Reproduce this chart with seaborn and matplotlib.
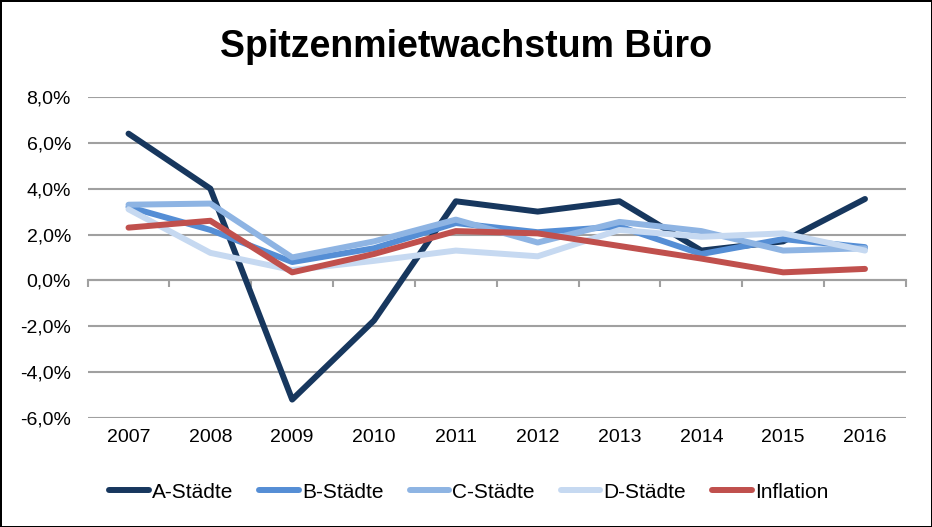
"""Spitzenmietwachstum Büro – Nachbau des Excel-Liniendiagramms."""

import matplotlib

matplotlib.use("Agg")
import matplotlib.pyplot as plt
import matplotlib.ticker as mticker
import pandas as pd
import seaborn as sns

jahre = ["2007", "2008", "2009", "2010", "2011", "2012", "2013", "2014", "2015", "2016"]
a_staedte = [6.4, 4.0, -5.2, -1.75, 3.45, 3.0, 3.45, 1.3, 1.7, 3.55]
b_staedte = [3.2, 2.2, 0.8, 1.4, 2.5, 2.1, 2.35, 1.15, 1.8, 1.45]
c_staedte = [3.3, 3.35, 1.0, 1.7, 2.65, 1.65, 2.55, 2.15, 1.3, 1.4]
d_staedte = [3.1, 1.2, 0.45, 0.85, 1.3, 1.05, 2.2, 1.9, 2.05, 1.3]
inflation = [2.3, 2.6, 0.35, 1.15, 2.15, 2.05, 1.5, 0.95, 0.35, 0.5]

serien = ["A-Städte", "B-Städte", "C-Städte", "D-Städte", "Inflation"]
farben = ["#17375E", "#558ED5", "#8EB4E3", "#C6D9F1", "#C0504D"]
y_ticks = [-6, -4, -2, 0, 2, 4, 6, 8]

df = pd.DataFrame(
    {
        "Jahr": jahre * 5,
        "Wert": a_staedte + b_staedte + c_staedte + d_staedte + inflation,
        "Serie": [s for s in serien for _ in jahre],
    }
)

sns.set_style("white")
plt.rcParams["font.family"] = ["Liberation Sans", "DejaVu Sans"]
plt.rcParams["text.color"] = "black"

fig = plt.figure(figsize=(9.32, 5.27), dpi=100, linewidth=2, edgecolor="black")
ax = fig.add_axes([0.094, 0.207, 0.878, 0.609])

sns.lineplot(
    data=df,
    x="Jahr",
    y="Wert",
    hue="Serie",
    hue_order=serien,
    palette=farben,
    linewidth=4.3,
    solid_capstyle="round",
    sort=False,
    ax=ax,
)

ax.set_xlim(-0.5, len(jahre) - 0.5)
ax.set_ylim(-6, 8)
ax.set_yticks(y_ticks)
ax.yaxis.set_major_formatter(
    mticker.FuncFormatter(lambda v, _: f"{v:.1f}%".replace(".", ","))
)
ax.grid(axis="y", color="#A0A0A0", linewidth=1.5)
ax.grid(axis="x", visible=False)
ax.set_axisbelow(True)
for s in ax.spines.values():
    s.set_visible(False)
ax.tick_params(axis="both", length=0, labelsize=14, colors="black", pad=8)
ax.tick_params(axis="y", pad=12)
ax.set_xlabel("")
ax.set_ylabel("")

# Kategorienachse bei 0 mit Teilstrichen zwischen den Jahren
sec = ax.secondary_xaxis(0, transform=ax.transData)
sec.set_xticks([i - 0.5 for i in range(len(jahre) + 1)])
sec.set_xticklabels([])
sec.tick_params(length=5, width=1.5, color="#A0A0A0")
sec.spines["bottom"].set_color("#A0A0A0")
sec.spines["bottom"].set_linewidth(1.5)

handles, labels = ax.get_legend_handles_labels()
ax.legend(
    handles,
    labels,
    loc="center",
    bbox_to_anchor=(0.503, 0.066),
    bbox_transform=fig.transFigure,
    ncol=5,
    frameon=False,
    fontsize=15,
    handlelength=1.9,
    handletextpad=0.15,
    columnspacing=1.25,
)

fig.suptitle(
    "Spitzenmietwachstum Büro", x=0.5, y=0.911, va="center",
    fontsize=27, fontweight="bold", color="black",
)

fig.savefig("out.png", dpi=100, edgecolor=fig.get_edgecolor())
